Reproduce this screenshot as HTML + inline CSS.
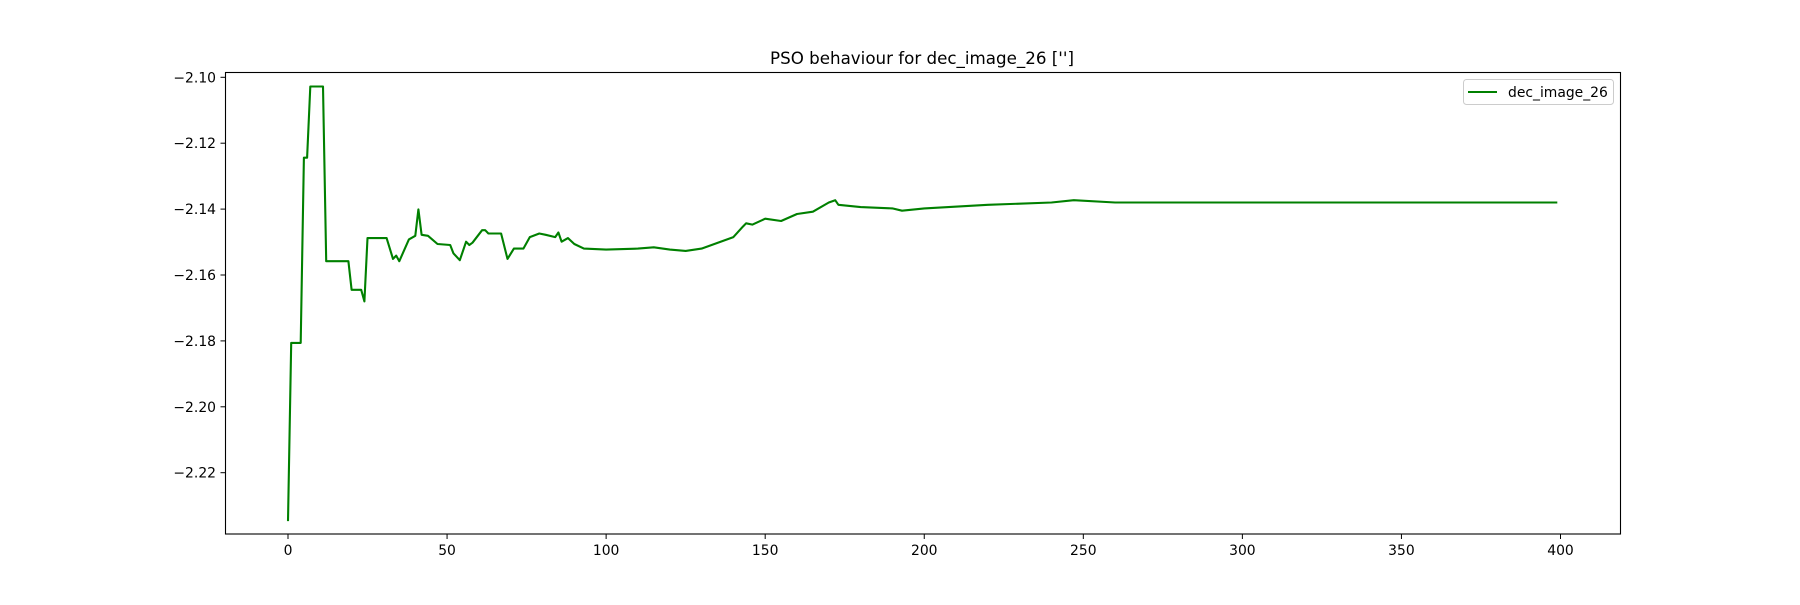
<!DOCTYPE html>
<html><head><meta charset="utf-8"><style>
html,body{margin:0;padding:0;background:#fff;}
svg text{font-family:"DejaVu Sans","Liberation Sans",sans-serif;fill:#000;}
</style></head><body>
<svg id="chart" width="1800" height="600" xmlns="http://www.w3.org/2000/svg">
<rect width="1800" height="600" fill="#fff"/>
<text x="922" y="64" font-size="16.7" text-anchor="middle">PSO behaviour for dec_image_26 ['']</text>
<g id="ticks"></g>
<path id="series" fill="none" stroke="#008000" stroke-width="2.1" stroke-linejoin="round"/>
<rect x="225.5" y="72.5" width="1395" height="461.5" fill="none" stroke="#000" stroke-width="1.1"/>
<g>
<rect x="1463.5" y="79.5" width="150" height="25" rx="3" fill="#fff" stroke="#ccc" stroke-width="1"/>
<line x1="1468" y1="92" x2="1497" y2="92" stroke="#008000" stroke-width="2.1"/>
<text x="1508" y="97" font-size="13.9">dec_image_26</text>
</g>
</svg>
<script>
const iterations=[0,1,4,5,6,7,11,12,19,20,23,24,25,31,33,34,35,38,40,41,42,44,47,51,52,54,56,57,58,61,62,63,67,69,71,74,76,79,81,84,85,86,88,90,93,100,110,115,120,125,130,140,143,144,146,150,155,160,165,170,172,173,180,190,193,200,220,240,247,260,280,300,350,399];
const bestValues=[-2.2347,-2.1806,-2.1806,-2.1244,-2.1244,-2.1028,-2.1028,-2.1558,-2.1558,-2.1645,-2.1645,-2.1680,-2.1488,-2.1488,-2.1551,-2.1541,-2.1558,-2.1492,-2.1481,-2.1401,-2.1478,-2.1481,-2.1506,-2.1509,-2.1534,-2.1555,-2.1499,-2.1509,-2.1502,-2.1464,-2.1464,-2.1474,-2.1474,-2.1551,-2.1520,-2.1520,-2.1485,-2.1474,-2.1478,-2.1485,-2.1471,-2.1499,-2.1488,-2.1506,-2.1520,-2.1523,-2.1520,-2.1516,-2.1523,-2.1527,-2.1520,-2.1485,-2.1453,-2.1443,-2.1447,-2.1429,-2.1436,-2.1415,-2.1408,-2.1380,-2.1373,-2.1387,-2.1394,-2.1398,-2.1405,-2.1398,-2.1387,-2.1380,-2.1373,-2.1380,-2.1380,-2.1380,-2.1380,-2.1380];
const xTicks=[0,50,100,150,200,250,300,350,400];
const yTicks=[-2.10,-2.12,-2.14,-2.16,-2.18,-2.20,-2.22];
const X=v=>288+(v-0)*(1560.5-288)/400;
const Y=v=>77.3+(-2.10-v)*(472.7-77.3)/0.12;
const NS='http://www.w3.org/2000/svg';
const g=document.getElementById('ticks');
function mk(tag,attrs){const e=document.createElementNS(NS,tag);for(const k in attrs)e.setAttribute(k,attrs[k]);return e;}
xTicks.forEach(t=>{
 const x=X(t);
 const l=mk('line',{x1:x,x2:x,y1:534,y2:539,stroke:'#000','stroke-width':1});
 
 
 g.appendChild(l);
 const tx=mk('text',{x:x,y:555,'font-size':13.9,'text-anchor':'middle'});
 
 
 tx.textContent=String(t);g.appendChild(tx);
});
yTicks.forEach(t=>{
 const y=Y(t);
 const l=mk('line',{x1:220.5,x2:225.5,y1:y,y2:y,stroke:'#000','stroke-width':1});
 
 
 g.appendChild(l);
 const tx=mk('text',{x:216,y:y+5,'font-size':13.9,'text-anchor':'end'});
 
 
 tx.textContent='\u2212'+Math.abs(t).toFixed(2);g.appendChild(tx);
});
document.getElementById('series').setAttribute('d',iterations.map((it,i)=>(i?'L':'M')+X(it).toFixed(1)+','+Y(bestValues[i]).toFixed(1)).join(''));
</script>
</body></html>
